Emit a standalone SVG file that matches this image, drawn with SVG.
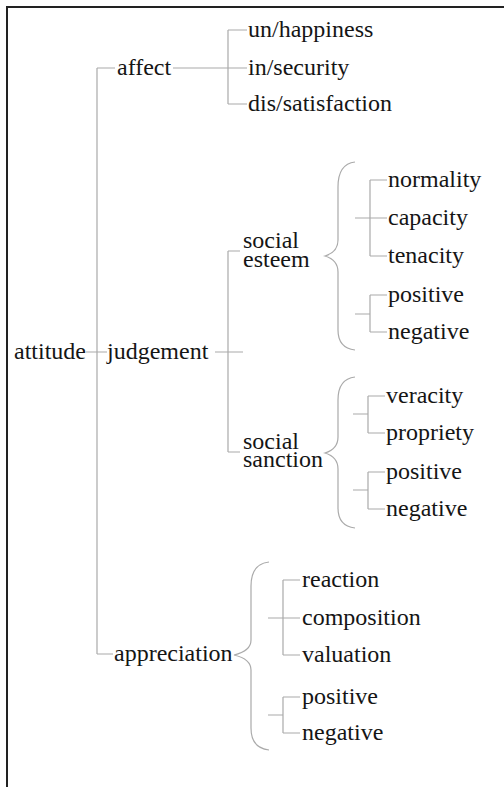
<svg xmlns="http://www.w3.org/2000/svg" width="504" height="787" viewBox="0 0 504 787">
<style>
text{font-family:"Liberation Serif","Times New Roman",serif;font-size:24px;fill:#151515}
.c{fill:none;stroke:#aaa;stroke-width:1.2}
.f{fill:none;stroke:#222;stroke-width:2}
</style>
<rect width="504" height="787" fill="#fff"/>
<path class="f" d="M7,787 V7 H504"/>
<g id="connectors">
<path class="c" d="M86,352 H107 M97,68 V654 M97,68 H115 M97,654 H113"/>
<path class="c" d="M173,68 H247 M228,30 V104 M228,30 H247 M228,104 H247"/>
<path class="c" d="M215,352 H243 M228,251 V452 M228,251 H240 M228,452 H240"/>
<path class="c" d="M355,162 Q338,164 338,187 V240 Q338,252 325,256 Q338,260 338,272 V330 Q338,348 355,350"/>
<path class="c" d="M370,180 V256 M370,180 H387 M355,218 H387 M370,256 H387"/>
<path class="c" d="M370,295 V332 M370,295 H387 M370,332 H387 M355,314 H370"/>
<path class="c" d="M355,377 Q338,379 338,400 V437 Q338,449 325,453 Q338,457 338,469 V508 Q338,526 355,528"/>
<path class="c" d="M368,396 V433 M368,396 H385 M368,433 H385 M353,414 H368"/>
<path class="c" d="M368,472 V509 M368,472 H385 M368,509 H385 M353,490 H368"/>
<path class="c" d="M269,562 Q251,564 251,586 V640 Q251,651 234,655 Q251,659 251,670 V728 Q251,748 269,750"/>
<path class="c" d="M283,580 V655 M283,580 H300 M268,618 H300 M283,655 H300"/>
<path class="c" d="M283,697 V733 M283,697 H300 M283,733 H300 M268,715 H283"/>
</g>
<g id="attitude"><text x="14" y="359">attitude</text></g>
<g id="affect"><text x="117" y="75">affect</text></g>
<g id="un-happiness"><text x="248" y="37">un/happiness</text></g>
<g id="in-security"><text x="248" y="75">in/security</text></g>
<g id="dis-satisfaction"><text x="248" y="111">dis/satisfaction</text></g>
<g id="judgement"><text x="107" y="359">judgement</text></g>
<g id="social-esteem"><text x="243" y="248">social</text><text x="243" y="267">esteem</text></g>
<g id="normality"><text x="388" y="187">normality</text></g>
<g id="capacity"><text x="388" y="225">capacity</text></g>
<g id="tenacity"><text x="388" y="263">tenacity</text></g>
<g id="esteem-positive"><text x="388" y="302">positive</text></g>
<g id="esteem-negative"><text x="388" y="339">negative</text></g>
<g id="social-sanction"><text x="243" y="449">social</text><text x="243" y="467">sanction</text></g>
<g id="veracity"><text x="386" y="403">veracity</text></g>
<g id="propriety"><text x="386" y="440">propriety</text></g>
<g id="sanction-positive"><text x="386" y="479">positive</text></g>
<g id="sanction-negative"><text x="386" y="516">negative</text></g>
<g id="appreciation"><text x="114" y="661">appreciation</text></g>
<g id="reaction"><text x="302" y="587">reaction</text></g>
<g id="composition"><text x="302" y="625">composition</text></g>
<g id="valuation"><text x="302" y="662">valuation</text></g>
<g id="appreciation-positive"><text x="302" y="704">positive</text></g>
<g id="appreciation-negative"><text x="302" y="740">negative</text></g>
</svg>
